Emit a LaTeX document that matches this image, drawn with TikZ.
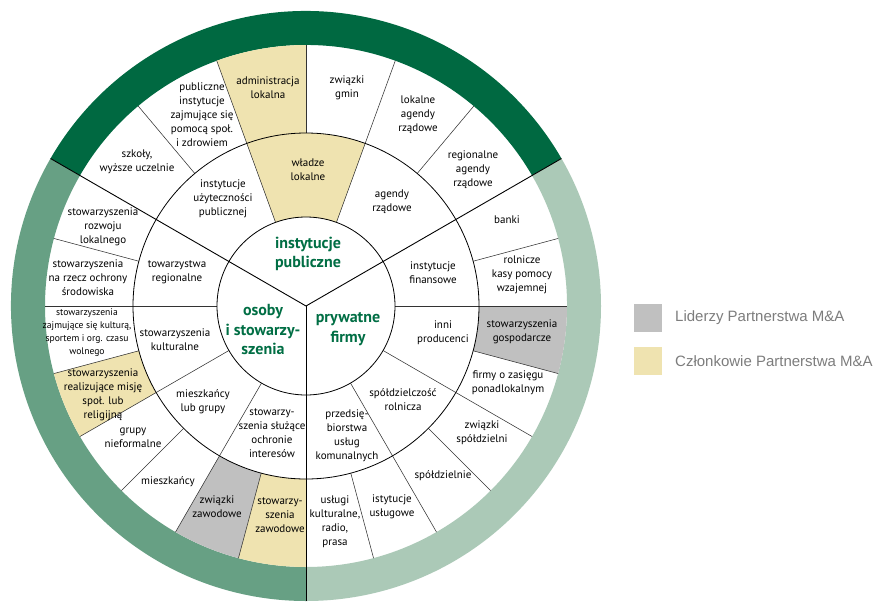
\documentclass[tikz,border=0pt]{standalone}
\usepackage{fontspec}
\setmainfont{PT Sans}
\newfontfamily\legendfont{Liberation Sans}
\definecolor{dkgreen}{RGB}{0,105,65}
\definecolor{mdgreen}{RGB}{103,160,132}
\definecolor{ltgreen}{RGB}{171,201,183}
\definecolor{mytan}{RGB}{239,227,176}
\definecolor{mygray}{RGB}{192,192,192}
\definecolor{greentext}{RGB}{0,110,68}
\definecolor{legtext}{RGB}{125,125,125}
\newcommand{\myAnnSec}[5]{%
  \fill[#1] (#2:#5) arc[start angle=#2, end angle=#3, radius=#5] -- (#3:#4) arc[start angle=#3, end angle=#2, radius=#4] -- cycle;}
\begin{document}
\begin{tikzpicture}[x=1pt,y=1pt,
  lbl/.style={align=center,font=\fontsize{11}{14}\selectfont,inner sep=0pt,text=black},
  lbls/.style={lbl,font=\fontsize{9.6}{13}\selectfont},
  ctr/.style={align=center,font=\bfseries\fontsize{16}{19.5}\selectfont,inner sep=0pt,text=greentext},
  maindiv/.style={draw=black,line width=0.9pt},
  subdiv/.style={draw=black!80,line width=0.55pt},
  ringline/.style={draw=black,line width=0.8pt},
  legbox/.style={minimum width=28pt,minimum height=28pt,inner sep=0pt},
  legtxt/.style={anchor=west,font=\legendfont\fontsize{15}{17}\selectfont,text=legtext,inner sep=0pt}]
\useasboundingbox (0,0) rectangle (873,-603);
\fill[white] (0,0) rectangle (873,-603);
\begin{scope}[shift={(306,-306)}]
  % outer coloured band
  \myAnnSec{dkgreen}{30}{150}{261pt}{295pt}
  \myAnnSec{mdgreen}{150}{270}{261pt}{295pt}
  \myAnnSec{ltgreen}{270}{390}{261pt}{295pt}
  % highlighted segments
  \myAnnSec{mytan}{90}{110}{173pt}{261pt}
  \myAnnSec{mytan}{70}{110}{89pt}{173pt}
  \myAnnSec{mygray}{-15}{0}{173pt}{261pt}
  \myAnnSec{mytan}{195}{210}{173pt}{261pt}
  \myAnnSec{mygray}{240}{255}{173pt}{261pt}
  \myAnnSec{mytan}{255}{270}{173pt}{261pt}
  % sub dividers in the middle ring
  \foreach \a in {70,110,0,-30,-60,180,210,240}
    \draw[subdiv] (\a:89pt) -- (\a:173pt);
  % sub dividers in the outer ring of segments
  \foreach \a in {50,70,90,110,130,15,0,-15,-30,-45,-60,-75,165,180,195,210,225,240,255}
    \draw[subdiv] (\a:173pt) -- (\a:261pt);
  % circles
  \draw[ringline] (0,0) circle[radius=89pt];
  \draw[ringline] (0,0) circle[radius=173pt];
  % main dividers
  \foreach \a in {30,150,270}
    \draw[maindiv] (0,0) -- (\a:295pt);
\end{scope}
% centre labels
\node[ctr] (c1) at (308,-254) {instytucje\\publiczne};
\node[ctr] (c2) at (263,-330) {osoby\\i stowarzy-\\szenia};
\node[ctr] (c3) at (348,-329) {prywatne\\firmy};
% middle ring labels
\node[lbl] (m1) at (223,-199) {instytucje\\użyteczności\\publicznej};
\node[lbl] (m2) at (308,-170) {władze\\lokalne};
\node[lbl] (m3) at (392,-202) {agendy\\rządowe};
\node[lbl] (m4) at (433,-273) {instytucje\\finansowe};
\node[lbl] (m5) at (443,-333) {inni\\producenci};
\node[lbl] (m6) at (403,-400) {spółdzielczość\\rolnicza};
\node[lbl] (m7) at (347,-436) {przedsię-\\biorstwa\\usług\\komunalnych};
\node[lbl] (m8) at (272,-433) {stowarzy-\\szenia służące\\ochronie\\interesów};
\node[lbl] (m9) at (203,-402) {mieszkańcy\\lub grupy};
\node[lbl] (m10) at (175,-340) {stowarzyszenia\\kulturalne};
\node[lbl] (m11) at (177,-272) {towarzystwa\\regionalne};
% outer segment labels
\node[lbl] (o1) at (137,-162) {szkoły,\\wyższe uczelnie};
\node[lbl] (o2) at (202,-115) {publiczne\\instytucje\\zajmujące się\\pomocą społ.\\i zdrowiem};
\node[lbl] (o3) at (268,-88) {administracja\\lokalna};
\node[lbl] (o4) at (347,-88) {związki\\gmin};
\node[lbl] (o5) at (418,-115) {lokalne\\agendy\\rządowe};
\node[lbl] (o6) at (473,-170) {regionalne\\agendy\\rządowe};
\node[lbl] (o7) at (507,-220) {banki};
\node[lbl] (o8) at (522,-275) {rolnicze\\kasy pomocy\\wzajemnej};
\node[lbl] (o9) at (522,-332) {stowarzyszenia\\gospodarcze};
\node[lbl] (o10) at (508,-383) {firmy o zasięgu\\ponadlokalnym};
\node[lbl] (o11) at (482,-433) {związki\\spółdzielni};
\node[lbl] (o12) at (443,-476) {spółdzielnie};
\node[lbl] (o13) at (392,-507) {istytucje\\usługowe};
\node[lbl] (o14) at (335,-522) {usługi\\kulturalne,\\radio,\\prasa};
\node[lbl] (o15) at (280,-515) {stowarzy-\\szenia\\zawodowe};
\node[lbl] (o16) at (217,-507) {związki\\zawodowe};
\node[lbl] (o17) at (168,-482) {mieszkańcy};
\node[lbl] (o18) at (133,-438) {grupy\\nieformalne};
\node[lbl] (o19) at (103,-395) {stowarzyszenia\\realizujące misję\\społ. lub\\religijną};
\node[lbls] (o20) at (87,-333) {stowarzyszenia\\zajmujące się kulturą,\\sportem i org. czasu\\wolnego};
\node[lbl] (o21) at (88,-278) {stowarzyszenia\\na rzecz ochrony\\środowiska};
\node[lbl] (o22) at (103,-227) {stowarzyszenia\\rozwoju\\lokalnego};
% legend
\node[legbox,fill=mygray] (lg1) at (648,-318) {};
\node[legtxt] (lt1) at (675,-318) {Liderzy Partnerstwa M\&A};
\node[legbox,fill=mytan] (lg2) at (648,-361) {};
\node[legtxt] (lt2) at (675,-361) {Członkowie Partnerstwa M\&A};
\end{tikzpicture}
\end{document}
